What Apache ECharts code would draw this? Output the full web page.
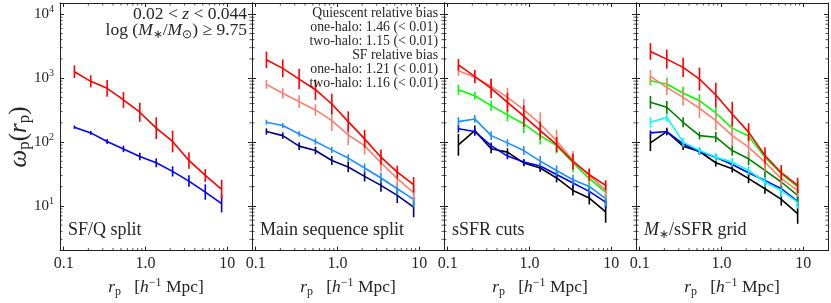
<!DOCTYPE html>
<html><head><meta charset="utf-8">
<script src="https://cdn.jsdelivr.net/npm/echarts@6/dist/echarts.min.js"></script>
<style>html,body{margin:0;padding:0;background:#fff}#c{width:831px;height:303px}</style>
</head><body><div id="c"></div>
<script>
// ---------------- data ----------------
const rp = [0.135, 0.214, 0.339, 0.537, 0.851, 1.35, 2.14, 3.39, 5.37, 8.51];

// Panel 1: SF/Q split
const p1Quiescent = [1259, 891, 693, 456, 293, 165, 102, 51.5, 30.0, 18.2];
const p1QuiescentErr = [0.10, 0.095, 0.13, 0.125, 0.15, 0.17, 0.17, 0.13, 0.10, 0.15];
const p1SF = [171, 139, 102, 78, 59.4, 47.3, 34.7, 24.5, 16.5, 10.9];
const p1SFErr = [0.026, 0.03, 0.04, 0.05, 0.06, 0.07, 0.08, 0.09, 0.12, 0.14];

// Panel 2: main sequence split
const p2Red = [1936, 1422, 968, 659, 394, 209, 112, 58, 33.9, 21.5];
const p2RedErr = [0.13, 0.14, 0.16, 0.16, 0.16, 0.16, 0.14, 0.12, 0.10, 0.12];
const p2Salmon = [800, 579, 428, 318, 216, 129, 88, 47.4, 26.7, 16.1];
const p2SalmonErr = [0.07, 0.08, 0.10, 0.09, 0.16, 0.16, 0.14, 0.14, 0.13, 0.12];
const p2LightBlue = [204, 181, 134, 102, 75.5, 56.1, 39.2, 27.4, 18.6, 12.7];
const p2LightBlueErr = [0.04, 0.04, 0.04, 0.05, 0.05, 0.06, 0.07, 0.08, 0.10, 0.12];
const p2Navy = [146, 126, 86.3, 73.6, 51.4, 40.6, 29, 21, 14.6, 9.6];
const p2NavyErr = [0.05, 0.05, 0.06, 0.06, 0.07, 0.08, 0.08, 0.10, 0.12, 0.16];

// Panel 3: sSFR cuts
const p3Red = [1618, 1067, 693, 419, 254, 151, 91.4, 49.6, 30.8, 21];
const p3RedErr = [0.09, 0.10, 0.15, 0.15, 0.17, 0.14, 0.12, 0.12, 0.09, 0.08];
const p3Salmon = [1304, 1029, 745, 501, 321, 192, 105, 51.4, 30, 17.5];
const p3SalmonErr = [0.08, 0.10, 0.12, 0.15, 0.17, 0.18, 0.17, 0.15, 0.12, 0.12];
const p3Lime = [659, 531, 371, 266, 192, 126, 88, 47.4, 26.7, 16.5];
const p3LimeErr = [0.08, 0.06, 0.08, 0.10, 0.14, 0.14, 0.12, 0.15, 0.12, 0.10];
const p3LightBlue = [209, 230, 126, 97, 73.6, 50.3, 35.9, 25.7, 20.2, 13];
const p3LightBlueErr = [0.07, 0.06, 0.07, 0.06, 0.07, 0.08, 0.08, 0.08, 0.10, 0.12];
const p3Blue = [161, 146, 88, 60.3, 48.5, 42.1, 31.1, 22.9, 16.9, 11.5];
const p3BlueErr = [0.06, 0.05, 0.05, 0.05, 0.05, 0.05, 0.06, 0.07, 0.08, 0.10];
const p3Black = [90.4, 151, 78.3, 69.5, 46.9, 39.2, 27.4, 17.5, 13.3, 8.06];
const p3BlackErr = [0.17, 0.08, 0.07, 0.06, 0.05, 0.06, 0.07, 0.08, 0.10, 0.17];

// Panel 4: M*/sSFR grid
const p4Red = [2618, 1986, 1473, 968, 545, 275, 143, 61.5, 33.1, 21];
const p4RedErr = [0.13, 0.15, 0.15, 0.18, 0.19, 0.19, 0.14, 0.13, 0.12, 0.12];
const p4Salmon = [1067, 718, 501, 338, 216, 126, 83.2, 48.6, 26.7, 17.5];
const p4SalmonErr = [0.10, 0.12, 0.13, 0.15, 0.15, 0.16, 0.16, 0.15, 0.12, 0.10];
const p4Lime = [911, 809, 586, 444, 285, 165, 124, 58, 31.9, 19.8];
const p4LimeErr = [0.07, 0.10, 0.10, 0.10, 0.10, 0.10, 0.10, 0.10, 0.10, 0.10];
const p4Green = [419, 350, 204, 126, 119, 73.6, 54.7, 35.9, 23.7, 14.6];
const p4GreenErr = [0.10, 0.10, 0.08, 0.06, 0.08, 0.08, 0.10, 0.10, 0.10, 0.10];
const p4Cyan = [204, 244, 99.6, 73.6, 58.1, 48.5, 35.9, 23.7, 17.5, 11.5];
const p4CyanErr = [0.08, 0.07, 0.07, 0.06, 0.06, 0.07, 0.07, 0.08, 0.10, 0.10];
const p4Blue = [139, 146, 93.8, 71.1, 58, 44.6, 33.1, 25.1, 18.6, 11.8];
const p4BlueErr = [0.04, 0.04, 0.04, 0.04, 0.05, 0.05, 0.05, 0.06, 0.07, 0.08];
const p4Black = [97.3, 146, 86.3, 71.1, 47.4, 38.2, 26.7, 18.6, 12.7, 7.6];
const p4BlackErr = [0.13, 0.06, 0.06, 0.05, 0.06, 0.06, 0.07, 0.08, 0.10, 0.16];

const panelLabels = ['SF/Q split', 'Main sequence split', 'sSFR cuts', '{i|M}{sub|∗}{r|/sSFR grid}'];
const xTickLabels = {'0.1': '0.1', '1': '1.0', '10': '10'};
const biasText = ['Quiescent relative bias', 'one-halo: 1.46 (< 0.01)', 'two-halo: 1.15 (< 0.01)',
                  'SF relative bias', 'one-halo: 1.21 (< 0.01)', 'two-halo: 1.16 (< 0.01)'];

// ---------------- layout / style ----------------
const XMIN = 0.09, XMAX = 20, YMIN = 2, YMAX = 15000;
const FONT = 'Liberation Serif';
const TXT = '#262626';
const AX = '#222';
const gridLefts = [60, 252, 444, 636];
const GRID_W = 192, GRID_TOP = 3, GRID_H = 249;

const C = {red:'#ff0000', salmon:'#fa8072', blue:'#0000ff', lblue:'#1e90ff', navy:'#000080',
           lime:'#00ff00', green:'#008000', cyan:'#00ffff', black:'#000000'};

const panels = [
  [[p1SF, p1SFErr, C.blue], [p1Quiescent, p1QuiescentErr, C.red]],
  [[p2Navy, p2NavyErr, C.navy], [p2LightBlue, p2LightBlueErr, C.lblue], [p2Salmon, p2SalmonErr, C.salmon], [p2Red, p2RedErr, C.red]],
  [[p3Black, p3BlackErr, C.black], [p3Blue, p3BlueErr, C.blue], [p3LightBlue, p3LightBlueErr, C.lblue], [p3Lime, p3LimeErr, C.lime], [p3Salmon, p3SalmonErr, C.salmon], [p3Red, p3RedErr, C.red]],
  [[p4Black, p4BlackErr, C.black], [p4Blue, p4BlueErr, C.blue], [p4Cyan, p4CyanErr, C.cyan], [p4Green, p4GreenErr, C.green], [p4Lime, p4LimeErr, C.lime], [p4Salmon, p4SalmonErr, C.salmon], [p4Red, p4RedErr, C.red]]
];

function mkRich(size) {
  const s = Math.round(size * 0.68);
  return {
    r: {fontFamily: FONT, fontSize: size, color: TXT, fill: TXT, lineHeight: size + 4},
    i: {fontFamily: FONT, fontSize: size, fontStyle: 'italic', color: TXT, fill: TXT, lineHeight: size + 4},
    sub: {fontFamily: FONT, fontSize: s, color: TXT, fill: TXT, lineHeight: s, verticalAlign: 'bottom'},
    sup: {fontFamily: FONT, fontSize: s, color: TXT, fill: TXT, lineHeight: s, verticalAlign: 'top'},
    b: {fontFamily: FONT, fontSize: size, color: TXT, fill: TXT, lineHeight: size + 4},
    s: {fontFamily: FONT, fontSize: s, color: TXT, fill: TXT, lineHeight: s, verticalAlign: 'top'}
  };
}

// minor tick positions (axis decoration)
const mant = [2, 3, 4, 5, 6, 7, 8, 9];
const minorX = [], minorY = [];
[0.1, 1].forEach(d => mant.forEach(m => { const v = m * d; if (v > XMIN && v < XMAX) minorX.push(+v.toPrecision(3)); }));
[1, 10, 100, 1000].forEach(d => mant.forEach(m => { const v = m * d; if (v > YMIN && v < YMAX) minorY.push(v); }));

function xFmt(v) {
  for (const k in xTickLabels) { if (Math.abs(v / parseFloat(k) - 1) < 1e-6) return xTickLabels[k]; }
  return '';
}
function yFmt(v) {
  const e = Math.round(Math.log10(v));
  if (Math.abs(v / Math.pow(10, e) - 1) > 1e-6) return '';
  return '{b|10}{s|' + e + '}';
}

const grid = [], xAxis = [], yAxis = [], series = [], graphic = [];
for (let p = 0; p < 4; p++) {
  grid.push({left: gridLefts[p], top: GRID_TOP, width: GRID_W, height: GRID_H});
}
const axLine = {show: true, onZero: false, lineStyle: {color: AX, width: 1}};
const tick = {show: true, inside: true, length: 4, lineStyle: {color: AX, width: 1}};
const EN = '\u2002';
// bottom x axes 0-3
for (let p = 0; p < 4; p++) {
  xAxis.push({type: 'log', gridIndex: p, min: XMIN, max: XMAX, position: 'bottom',
    axisLine: axLine, axisTick: tick, splitLine: {show: false}, minorTick: {show: false},
    axisLabel: {formatter: xFmt, margin: 5, fontFamily: FONT, fontSize: 16, color: TXT, showMinLabel: false, showMaxLabel: false},
    name: '{i|r}{sub|p}{r|' + EN + ' [}{i|h}{sup|−1}{r| Mpc]}', nameLocation: 'middle', nameGap: 21,
    nameTextStyle: {rich: mkRich(17.5)}});
}
// top x axes 4-7
for (let p = 0; p < 4; p++) {
  xAxis.push({type: 'log', gridIndex: p, min: XMIN, max: XMAX, position: 'top',
    axisLine: axLine, axisTick: tick, splitLine: {show: false}, axisLabel: {show: false}});
}
// left y axes 0-3
for (let p = 0; p < 4; p++) {
  yAxis.push({type: 'log', gridIndex: p, min: YMIN, max: YMAX, position: 'left',
    axisLine: axLine, axisTick: tick, splitLine: {show: false},
    axisLabel: {show: p === 0, formatter: yFmt, margin: 6, rich: mkRich(15), showMinLabel: false, showMaxLabel: false}});
}
// right y axes 4-7
for (let p = 0; p < 4; p++) {
  yAxis.push({type: 'log', gridIndex: p, min: YMIN, max: YMAX, position: 'right',
    axisLine: axLine, axisTick: tick, splitLine: {show: false}, axisLabel: {show: false}});
}

function errRender(color) {
  return function (params, api) {
    const x = api.value(0), lo = api.value(1), hi = api.value(2);
    const a = api.coord([x, lo]), b = api.coord([x, hi]);
    return {type: 'line', shape: {x1: a[0], y1: a[1], x2: b[0], y2: b[1]},
            style: {stroke: color, lineWidth: 1.6}};
  };
}

for (let p = 0; p < 4; p++) {
  panels[p].forEach((c, idx) => {
    const [vals, errs, color] = c;
    series.push({type: 'line', xAxisIndex: p, yAxisIndex: p, data: rp.map((x, k) => [x, vals[k]]),
      symbol: 'none', lineStyle: {color: color, width: 1.6}, itemStyle: {color: color},
      z: 3 + idx, silent: true, clip: false, animation: false});
    series.push({type: 'custom', xAxisIndex: p, yAxisIndex: p,
      data: rp.map((x, k) => [x, vals[k] / Math.pow(10, errs[k]), vals[k] * Math.pow(10, errs[k])]),
      encode: {x: 0, y: [1, 2]}, renderItem: errRender(color), z: 3 + idx, silent: true, clip: false, animation: false});
  });
  const tk = {color: AX};
  series.push({type: 'scatter', xAxisIndex: p, yAxisIndex: p, data: minorX.map(v => [v, YMIN]),
    symbol: 'rect', symbolSize: [1, 2.5], symbolOffset: [0, -1.25], itemStyle: tk, silent: true, clip: false, animation: false, z: 10});
  series.push({type: 'scatter', xAxisIndex: p, yAxisIndex: p, data: minorX.map(v => [v, YMAX]),
    symbol: 'rect', symbolSize: [1, 2.5], symbolOffset: [0, 1.25], itemStyle: tk, silent: true, clip: false, animation: false, z: 10});
  series.push({type: 'scatter', xAxisIndex: p, yAxisIndex: p, data: minorY.map(v => [XMIN, v]),
    symbol: 'rect', symbolSize: [2.5, 1], symbolOffset: [1.25, 0], itemStyle: tk, silent: true, clip: false, animation: false, z: 10});
  series.push({type: 'scatter', xAxisIndex: p, yAxisIndex: p, data: minorY.map(v => [XMAX, v]),
    symbol: 'rect', symbolSize: [2.5, 1], symbolOffset: [-1.25, 0], itemStyle: tk, silent: true, clip: false, animation: false, z: 10});

  graphic.push({type: 'text', left: gridLefts[p] + 8, top: 221, z: 20,
    style: {text: p === 3 ? panelLabels[p] : '{r|' + panelLabels[p] + '}', rich: mkRich(18)}});
}

// y axis title (rotated)
graphic.push({type: 'text', x: 19, y: 137, rotation: Math.PI / 2, z: 20,
  style: {text: '{i|ω}{sub|p}{r|(}{i|r}{sub|p}{r|)}', rich: mkRich(25), x: 0, y: 0,
          align: 'center', verticalAlign: 'middle', textAlign: 'center', textVerticalAlign: 'middle'}});

// panel 1 annotation
graphic.push({type: 'text', right: 831 - 247, top: 5, z: 20,
  style: {text: '{r|0.02 < }{i|z}{r| < 0.044}', rich: mkRich(17.5), align: 'right', textAlign: 'right'}});
graphic.push({type: 'text', right: 831 - 247, top: 21, z: 20,
  style: {text: '{r|log (}{i|M}{sub|∗}{r|/}{i|M}{sub|⊙}{r|) ≥ 9.75}', rich: mkRich(17.5), align: 'right', textAlign: 'right'}});
// panel 2 annotation
biasText.forEach((t, k) => {
  graphic.push({type: 'text', right: 831 - 438, top: 6.5 + k * 13.9, z: 20,
    style: {text: '{r|' + t + '}', rich: mkRich(13.8), align: 'right', textAlign: 'right'}});
});

const chart = echarts.init(document.getElementById('c'), null, {renderer: 'canvas'});
chart.setOption({animation: false, backgroundColor: '#ffffff', grid, xAxis, yAxis, series, graphic});
</script></body></html>
